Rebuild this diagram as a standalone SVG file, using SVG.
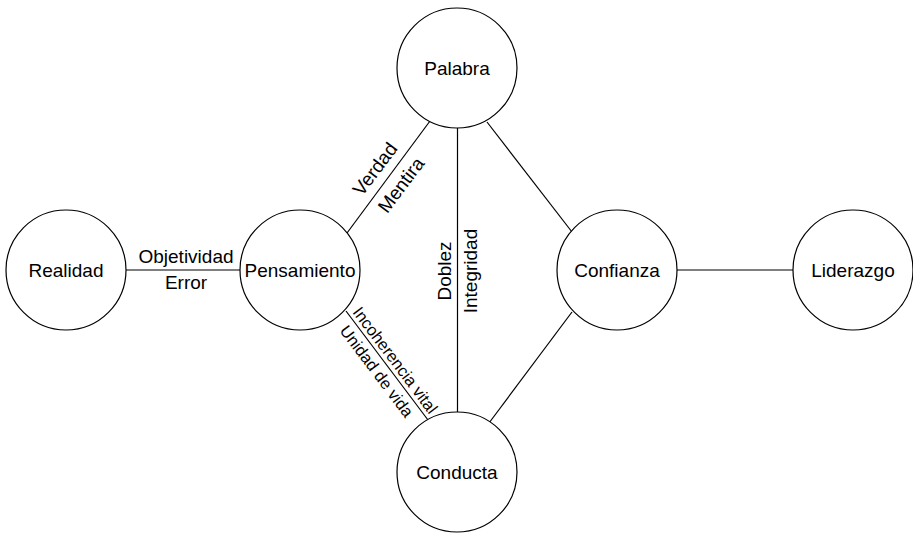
<svg xmlns="http://www.w3.org/2000/svg" width="913" height="533" viewBox="0 0 913 533">
<style>
  .node circle { fill: #ffffff; stroke: #000000; stroke-width: 1.2; }
  .node text, .lbl { font-family: "Liberation Sans", Arial, Helvetica, sans-serif; font-size: 19px; fill: #000000; text-anchor: middle; }
  .lbl.small { font-size: 16.5px; }
  .edge { stroke: #000000; stroke-width: 1.2; fill: none; }
</style>
<rect width="913" height="533" fill="#ffffff"/>
<g id="connectors">
  <line class="edge" x1="126" y1="270" x2="240" y2="270"/>
  <line class="edge" x1="677" y1="270" x2="793" y2="270"/>
  <line class="edge" x1="430" y1="121" x2="347" y2="233"/>
  <line class="edge" x1="457.5" y1="128" x2="457.5" y2="413"/>
  <line class="edge" x1="487" y1="122" x2="572" y2="232"/>
  <line class="edge" x1="572" y1="312" x2="489" y2="423"/>
  <line class="edge" x1="346" y1="311" x2="428" y2="420"/>
  <text class="lbl" x="186" y="263">Objetividad</text>
  <text class="lbl" x="186" y="289">Error</text>
  <text class="lbl" transform="translate(375,169) rotate(-53)" x="0" y="6.5">Verdad</text>
  <text class="lbl" transform="translate(401,185) rotate(-53)" x="0" y="6.5">Mentira</text>
  <text class="lbl" transform="translate(444,271) rotate(-90)" x="0" y="7">Doblez</text>
  <text class="lbl" transform="translate(470,271) rotate(-90)" x="0" y="7">Integridad</text>
  <text class="lbl small" transform="translate(395.5,360) rotate(53)" x="0" y="6">Incoherencia vital</text>
  <text class="lbl small" transform="translate(377,371) rotate(53)" x="0" y="6">Unidad de vida</text>
</g>
<g id="realidad" class="node"><circle cx="66" cy="270" r="60"/><text x="66" y="277">Realidad</text></g>
<g id="pensamiento" class="node"><circle cx="300" cy="270" r="60"/><text x="300" y="277">Pensamiento</text></g>
<g id="palabra" class="node"><circle cx="457" cy="68" r="60"/><text x="457" y="75">Palabra</text></g>
<g id="confianza" class="node"><circle cx="617" cy="270" r="60"/><text x="617" y="277">Confianza</text></g>
<g id="liderazgo" class="node"><circle cx="853" cy="270" r="60"/><text x="853" y="277">Liderazgo</text></g>
<g id="conducta" class="node"><circle cx="457" cy="472" r="60"/><text x="457" y="479">Conducta</text></g>
</svg>
